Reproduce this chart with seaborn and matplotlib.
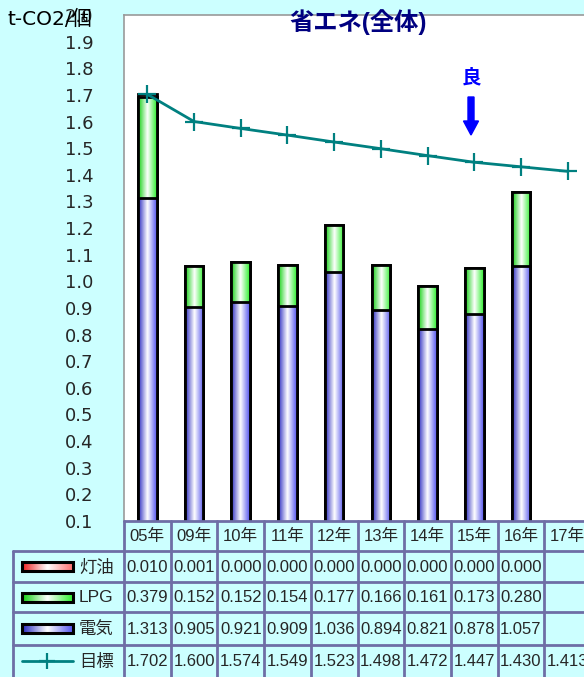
import numpy as np
import matplotlib
matplotlib.use("Agg")
import matplotlib.pyplot as plt
import matplotlib.transforms as mtrans
from matplotlib.colors import LinearSegmentedColormap
from matplotlib.patches import Rectangle, FancyArrow
import seaborn as sns

# data
years = ["05年", "09年", "10年", "11年", "12年", "13年", "14年", "15年", "16年", "17年"]
kerosene = [0.010, 0.001, 0.000, 0.000, 0.000, 0.000, 0.000, 0.000, 0.000, np.nan]
lpg = [0.379, 0.152, 0.152, 0.154, 0.177, 0.166, 0.161, 0.173, 0.280, np.nan]
electric = [1.313, 0.905, 0.921, 0.909, 1.036, 0.894, 0.821, 0.878, 1.057, np.nan]
target = [1.702, 1.600, 1.574, 1.549, 1.523, 1.498, 1.472, 1.447, 1.430, 1.413]
row_names = ["灯油", "LPG", "電気", "目標"]

BG = "#CCFFFF"
GRID = "#6E6EA6"
TEAL = "#008080"
FONT = ["Liberation Sans", "Noto Sans CJK JP", "DejaVu Sans"]
FONT_WIDE = ["DejaVu Sans", "Noto Sans CJK JP"]

sns.set_theme(style="white")
plt.rcParams["font.family"] = FONT

W, H = 584, 677
fig = plt.figure(figsize=(W / 100, H / 100), dpi=100, facecolor=BG)

# main plot area (extends a bit past the right edge like the original)
ax = fig.add_axes([124 / W, 1 - 521 / H, 467 / W, (521 - 15) / H])
ax.set_facecolor("white")
Y0, Y1 = 0.1, 2.0

cmaps = {
    "red": LinearSegmentedColormap.from_list("r", ["#EE2020", "#FFFFFF", "#FF7070"]),
    "green": LinearSegmentedColormap.from_list("g", ["#10D010", "#FFFFFF", "#30F030"]),
    "blue": LinearSegmentedColormap.from_list("b", ["#2828C0", "#FFFFFF", "#5555EE"]),
}
grad = np.linspace(0, 1, 64).reshape(1, -1)

elec = np.array(electric)
tot_lpg = elec + np.array(lpg)
tot_all = tot_lpg + np.array(kerosene)

layers = [(tot_all, "red", 1), (tot_lpg, "green", 2), (elec, "blue", 3)]
for vals, cname, z in layers:
    n0 = len(ax.patches)
    sns.barplot(x=years, y=vals, order=years, color="white", width=0.4,
                errorbar=None, ax=ax)
    for p in ax.patches[n0:]:
        h = p.get_height()
        if not np.isfinite(h) or h <= Y0:
            continue
        x0, w = p.get_x(), p.get_width()
        # gradient fill, kept inside the visible y range
        im = ax.imshow(grad, cmap=cmaps[cname], aspect="auto",
                       extent=[x0, x0 + w, Y0, h], zorder=z, interpolation="bilinear")
        im.set_clip_path(p)
        p.set_facecolor("none")
        p.set_edgecolor("black")
        p.set_linewidth(2)
        p.set_zorder(z + 0.5)

sns.lineplot(x=np.arange(len(years)), y=target, color=TEAL, linewidth=2,
             marker="+", markersize=13, markeredgewidth=1.6, markeredgecolor=TEAL,
             ax=ax, zorder=6)

ax.set_xlim(-0.5, len(years) - 0.5)
ax.set_ylim(Y0, Y1)
yt = np.round(np.arange(0.1, 2.01, 0.1), 1)
ax.set_yticks(yt)
ax.set_yticklabels([f"{v:.1f}" for v in yt], fontsize=13, family=FONT_WIDE)
ax.set_xticks([])
ax.set_xlabel("")
ax.set_ylabel("")
ax.tick_params(axis="y", direction="in", length=5, color="#999999", pad=22)
for s in ["left", "top"]:
    ax.spines[s].set_color("#999999")
    ax.spines[s].set_linewidth(1.2)
ax.spines["right"].set_visible(False)
ax.spines["bottom"].set_visible(False)

# overlay in pixel coords for the data table and annotations
ov = fig.add_axes([0, 0, 1, 1], facecolor="none")
ov.set_xlim(0, W)
ov.set_ylim(H, 0)
ov.axis("off")
bt = mtrans.blended_transform_factory(ax.transData, ov.transData)

row_lines = [521, 551, 582, 612, 645, 700]
col_x = [ax.transData.transform((i - 0.5, 0))[0] for i in range(len(years) + 1)]
col_px = [c * W / fig.bbox.width for c in col_x]

lw = 2
for y in row_lines[1:5]:
    ov.plot([13, W + 10], [y, y], color=GRID, lw=lw)
ov.plot([col_px[0], W + 10], [row_lines[0]] * 2, color=GRID, lw=lw)
ov.plot([13, 13], [row_lines[1], H + 5], color=GRID, lw=lw)
for c in col_px:
    ov.plot([c, c], [row_lines[0], H + 5], color=GRID, lw=lw)

# header labels
for i, yr in enumerate(years):
    ov.text(i, 536, yr, transform=bt, ha="center", va="center", fontsize=12)

table_rows = [kerosene, lpg, electric, target]
for r, vals in enumerate(table_rows):
    yc = (row_lines[r + 1] + row_lines[r + 2]) / 2 if r < 3 else 661
    for i, v in enumerate(vals):
        if np.isfinite(v):
            ov.text(i, yc + 1, f"{v:.3f}", transform=bt, ha="center", va="center",
                    fontsize=12)
    ov.text(79, yc + 1, row_names[r], ha="left", va="center", fontsize=12.5)
    if r < 3:
        cname = ["red", "green", "blue"][r]
        box = Rectangle((22, yc - 4.5), 51, 9, facecolor="none", edgecolor="black",
                        lw=2.2, zorder=3)
        ov.add_patch(box)
        im = ov.imshow(grad, cmap=cmaps[cname], aspect="auto",
                       extent=[22, 73, yc + 4.5, yc - 4.5], zorder=2)
        im.set_clip_path(box)
    else:
        ov.plot([22, 73], [yc, yc], color=TEAL, lw=2)
        ov.plot([47], [yc], marker="+", color=TEAL, markersize=12, mew=1.6)

ov.set_xlim(0, W)
ov.set_ylim(H, 0)

# title, unit, annotation
ov.text(358, 22, "省エネ(全体)", ha="center", va="center", fontsize=17.5,
        fontweight="bold", color="#000080")
ov.text(8, 19, "t-CO2/個", ha="left", va="center", fontsize=14.5, color="black",
        family=FONT_WIDE)
ov.text(471, 78, "良", ha="center", va="center", fontsize=14, fontweight="bold",
        color="#0000FF")
ov.add_patch(FancyArrow(471, 97, 0, 38, width=6, head_width=15, head_length=14,
                        length_includes_head=True, color="#0000FF"))

fig.savefig("out.png", dpi=100, facecolor=BG)
